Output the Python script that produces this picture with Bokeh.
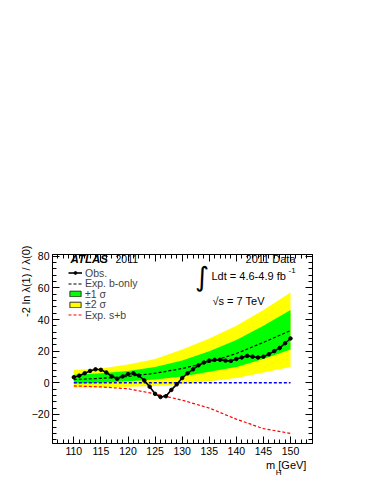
import math
from bokeh.plotting import figure
from bokeh.models import (Range1d, LinearAxis, SingleIntervalTicker, Label,
                          Legend, LegendItem, Title)
from bokeh.embed import file_html
from bokeh.resources import INLINE

# ---------------- data ----------------
mass_obs = list(range(110, 151))
obs = [3.5, 4.5, 6.0, 7.5, 8.5, 8.2, 6.5, 4.0, 2.5, 4.0,
       5.5, 6.0, 4.6, 1.5, -2.5, -7.0, -9.0, -8.5, -4.5, -1.0,
       3.0, 6.0, 8.5, 11.0, 12.8, 14.0, 14.5, 14.5, 14.0, 13.8,
       15.0, 16.0, 17.0, 16.5, 16.0, 16.5, 18.0, 20.0, 22.0, 25.0,
       28.0]

mass_band = [110, 115, 120, 125, 130, 135, 140, 145, 150]
exp_b = [2.0, 2.8, 4.0, 6.0, 9.0, 13.0, 18.5, 25.5, 33.0]
one_sig_lo = [-0.5, 0.0, 1.0, 2.0, 4.0, 7.0, 10.0, 15.0, 21.0]
one_sig_hi = [5.0, 6.0, 7.5, 10.0, 14.0, 20.0, 27.0, 36.0, 46.0]
two_sig_lo = [-3.0, -3.0, -2.5, -2.0, -1.0, 1.0, 3.0, 6.5, 10.0]
two_sig_hi = [8.0, 9.0, 11.5, 15.0, 21.0, 28.0, 36.0, 46.0, 57.0]
exp_sb = [-2.0, -2.6, -3.8, -7.0, -11.0, -16.0, -23.0, -29.0, -32.0]
null_line = [0, 0, 0, 0, 0, 0, 0, 0, 0]

x_ticks = [110, 115, 120, 125, 130, 135, 140, 145, 150]
y_ticks = [-20, 0, 20, 40, 60, 80]
x_ticks_interval = 5
y_ticks_interval = 20

FONT = "Liberation Sans"

XMIN, XMAX = 106.06, 154.06
YMIN, YMAX = -38.4, 81.1

p = figure(frame_width=260, frame_height=189,
           x_range=Range1d(XMIN, XMAX), y_range=Range1d(YMIN, YMAX),
           output_backend="svg", toolbar_location=None,
           min_border_left=52, min_border_right=54,
           min_border_top=254, min_border_bottom=35)
p.xgrid.visible = False
p.ygrid.visible = False
p.outline_line_color = "black"
p.outline_line_width = 1
p.background_fill_color = "white"
p.border_fill_color = "white"

# bands
yel = p.varea(x=mass_band, y1=two_sig_lo, y2=two_sig_hi, fill_color="#ffff00")
grn = p.varea(x=mass_band, y1=one_sig_lo, y2=one_sig_hi, fill_color="#00ff00")
# null line
p.line(x=mass_band, y=null_line, line_color="#0000ff", line_width=1.3, line_dash="3 2")
# s+b expectation
red = p.line(x=mass_band, y=exp_sb, line_color="#ff0000", line_width=1.2, line_dash="3 2")
# b-only expectation
blk = p.line(x=mass_band, y=exp_b, line_color="black", line_width=1.2, line_dash="3 2")
# observed
obs_l = p.line(x=mass_obs, y=obs, line_color="black", line_width=1.6)
obs_p = p.scatter(x=mass_obs, y=obs, size=3.5, marker="circle", fill_color="black", line_color="black")

# legend swatches with outline (hidden, zero-size, only used for legend glyphs)
grn_box = p.quad(left=mass_band[:1], right=mass_band[:1], top=one_sig_lo[:1], bottom=one_sig_lo[:1],
                 fill_color="#00ff00", line_color="#333333", line_width=1, visible=False)
yel_box = p.quad(left=mass_band[:1], right=mass_band[:1], top=two_sig_lo[:1], bottom=two_sig_lo[:1],
                 fill_color="#ffff00", line_color="#333333", line_width=1, visible=False)

# axes
def style(ax):
    ax.major_tick_in = 7
    ax.major_tick_out = 0
    ax.minor_tick_in = 4
    ax.minor_tick_out = 0
    ax.axis_line_color = "black"
    ax.major_tick_line_color = "black"
    ax.minor_tick_line_color = "black"
    ax.major_label_text_font = FONT
    ax.major_label_text_color = "black"
    ax.major_label_standoff = 3
    ax.major_label_text_font_size = "10.5px"

p.xaxis.ticker = SingleIntervalTicker(interval=x_ticks_interval, num_minor_ticks=5)
p.yaxis.ticker = SingleIntervalTicker(interval=y_ticks_interval, num_minor_ticks=5)
style(p.xaxis[0])
style(p.yaxis[0])

top_ax = LinearAxis(ticker=SingleIntervalTicker(interval=x_ticks_interval, num_minor_ticks=5),
                    major_label_overrides={t: "" for t in x_ticks})
right_ax = LinearAxis(ticker=SingleIntervalTicker(interval=y_ticks_interval, num_minor_ticks=5),
                      major_label_overrides={t: "" for t in y_ticks})
style(top_ax)
style(right_ax)
top_ax.major_label_standoff = 0
right_ax.major_label_standoff = 0
p.add_layout(top_ax, "above")
p.add_layout(right_ax, "right")

def set_standoff(t, v):
    try:
        t.standoff = v
    except Exception:
        pass

# axis titles as Title panels
y_title = Title(text="-2 ln \u03bb(1) / \u03bb(0)", align="right", offset=-9,
                text_font=FONT, text_font_size="11px", text_font_style="normal",
                text_color="black")
set_standoff(y_title, -6)
p.add_layout(y_title, "left")
x_title = Title(text="m   [GeV]", align="right", offset=0,
                text_font=FONT, text_font_size="11px", text_font_style="normal",
                text_color="black")
set_standoff(x_title, -2)
p.add_layout(x_title, "below")
x_sub = Title(text="H", align="right", offset=31,
              text_font=FONT, text_font_size="8px", text_font_style="normal",
              text_color="black")
set_standoff(x_sub, -14)
p.add_layout(x_sub, "below")

# legend: one single-row legend per entry, placed precisely
entries = [
    ("Obs.", [obs_l, obs_p], 164.5),
    ("Exp. b-only", [blk], 154),
    ("\u00b11 \u03c3", [grn_box], 143.5),
    ("\u00b12 \u03c3", [yel_box], 133),
    ("Exp. s+b", [red], 122.5),
]
for text, rends, ypos in entries:
    lg = Legend(items=[LegendItem(label=text, renderers=rends)],
                location=(16, ypos), label_text_font=FONT, label_text_font_size="10.5px",
                glyph_width=14, glyph_height=7, label_height=10, label_standoff=3,
                spacing=0, padding=0, margin=0, border_line_color=None,
                background_fill_alpha=0)
    p.add_layout(lg)

def lab(text, x, y, dx, dy, size="11px", align="left", baseline="middle",
        style="normal", font=FONT, angle=0.0):
    p.add_layout(Label(x=x, y=y, x_offset=dx, y_offset=dy, text=text,
                       text_font=font, text_font_size=size, text_font_style=style,
                       text_align=align, text_baseline=baseline, text_color="black",
                       angle=angle, angle_units="rad"))

# header texts
lab("ATLAS", XMIN, YMAX, 18, -4.5, size="11.5px", style="bold italic")
lab("2011", XMIN, YMAX, 63, -4.5, size="10.5px")
lab("2011 Data", XMAX, YMAX, -17, -4.5, size="11px", align="right")
lab("\u222b", XMAX, YMAX, -110.5, -22, size="27px", align="center", font="DejaVu Sans")
lab("Ldt = 4.6-4.9 fb", XMAX, YMAX, -101, -21, size="11px")
lab("-1", XMAX, YMAX, -24, -16, size="8px")
lab("\u221as = 7 TeV", XMAX, YMAX, -100, -46, size="11px")

open("out.html", "w").write(file_html(p, INLINE))
